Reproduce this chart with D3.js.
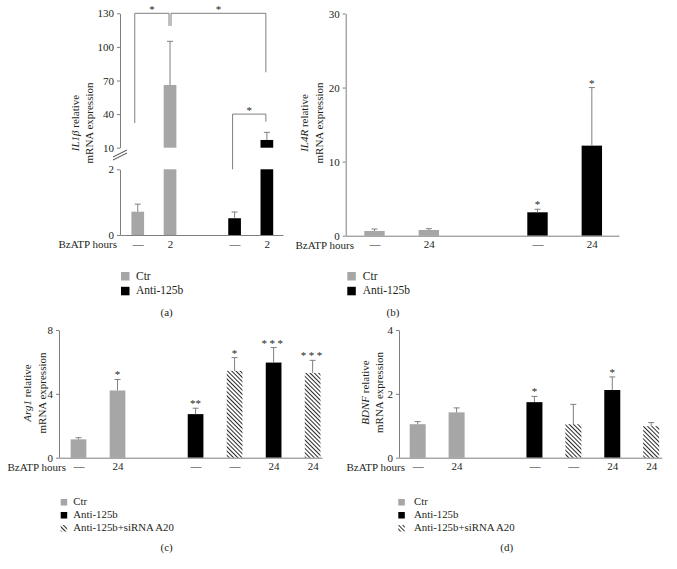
<!DOCTYPE html>
<html><head><meta charset="utf-8">
<script src="https://cdn.jsdelivr.net/npm/d3@7"></script>
<style>
body{margin:0;background:#fff}
svg{display:block}
</style>
</head><body>
<svg id="chart" width="677" height="569"></svg>
<script>
// ---------------- data ----------------
const seriesAB = ["Ctr", "Anti-125b"];
const seriesCD = ["Ctr", "Anti-125b", "Anti-125b+siRNA A20"];

// (a) IL1β
const catsA  = ["—", "2", "—", "2"];
const groupA = ["Ctr", "Ctr", "Anti-125b", "Anti-125b"];
const valA   = [0.71, 66, 0.51, 16.9];
const errA   = [0.23, 39, 0.19, 6.8];
const ticksALow = [0, 2];
const ticksAUp  = [10, 40, 70, 100, 130];
const bracketsA = [
  {from: 0, to: 1, fromVal: 32, toVal: 118.7, top: 130, label: "*"},
  {from: 1, to: 3, fromVal: 118.7, toVal: 77.3, top: 130, label: "*"},
  {from: 2, to: 3, fromVal: 2, toVal: 33.2, top: 40, label: "*"}
];

// (b) IL4R
const catsB  = ["—", "24", "—", "24"];
const groupB = ["Ctr", "Ctr", "Anti-125b", "Anti-125b"];
const valB   = [0.64, 0.77, 3.16, 12.16];
const errB   = [0.26, 0.18, 0.41, 7.84];
const sigB   = ["", "", "*", "*"];
const ticksB = [0, 10, 20, 30];

// (c) Arg1
const catsC  = ["—", "24", "—", "—", "24", "24"];
const groupC = ["Ctr", "Ctr", "Anti-125b", "Anti-125b+siRNA A20", "Anti-125b", "Anti-125b+siRNA A20"];
const valC   = [1.15, 4.21, 2.73, 5.44, 5.96, 5.31];
const errC   = [0.10, 0.69, 0.37, 0.83, 0.94, 0.79];
const sigC   = ["", "*", "**", "*", "***", "***"];
const ticksC = [0, 4, 8];

// (d) BDNF
const catsD  = ["—", "24", "—", "—", "24", "24"];
const groupD = ["Ctr", "Ctr", "Anti-125b", "Anti-125b+siRNA A20", "Anti-125b", "Anti-125b+siRNA A20"];
const valD   = [1.05, 1.42, 1.74, 1.05, 2.12, 0.99];
const errD   = [0.08, 0.14, 0.18, 0.62, 0.41, 0.11];
const sigD   = ["", "", "*", "", "*", ""];
const ticksD = [0, 2, 4];

// ---------------- styling ----------------
const FONT = "'Times New Roman', 'Liberation Serif', Times, Tinos, serif";
const GRAY_AX = "#7f7f7f";
const color = {"Ctr": "#a6a6a6", "Anti-125b": "#000000", "Anti-125b+siRNA A20": "url(#hatch)"};

const svg = d3.select("#chart").style("font-family", FONT);
svg.append("rect").attr("width", 677).attr("height", 569).attr("fill", "#fff");

const defs = svg.append("defs");
const pat = defs.append("pattern").attr("id", "hatch")
  .attr("patternUnits", "userSpaceOnUse").attr("width", 3).attr("height", 3)
  .attr("patternTransform", "rotate(-45)");
pat.append("line").attr("x1", 0.5).attr("y1", 0).attr("x2", 0.5).attr("y2", 3)
  .attr("stroke", "#111").attr("stroke-width", 0.9);

const slotsOf = groups => groups.map((g, i) => i + (g !== "Ctr" ? 1 : 0));
const fmt = d3.format("d");

function txt(sel) { return sel.append("text").style("font-family", FONT).attr("fill", "#231f20"); }

function styleAxis(g) {
  g.attr("font-family", null).attr("font-size", 11);
  g.selectAll(".domain").attr("stroke", GRAY_AX);
  g.selectAll(".tick line").attr("stroke", GRAY_AX);
  g.selectAll("text").attr("fill", "#231f20").style("font-family", FONT);
}

function yTitle(x1, x2, cy, gene) {
  const g = svg.append("g").attr("transform", `translate(0,${cy})`);
  const t1 = txt(g).attr("transform", `translate(${x1},0) rotate(-90)`)
    .attr("text-anchor", "middle").attr("font-size", 11);
  t1.append("tspan").attr("font-style", "italic").text(gene);
  t1.append("tspan").text(" relative");
  txt(g).attr("transform", `translate(${x2},0) rotate(-90)`)
    .attr("text-anchor", "middle").attr("font-size", 11).text("mRNA expression");
}

function xAxis(x, y0, slots, cats, labelX) {
  const g = svg.append("g").attr("transform", `translate(0,${y0})`)
    .call(d3.axisBottom(x).tickValues(slots).tickFormat((d, i) => cats[i])
      .tickSize(0).tickSizeOuter(0).tickPadding(5));
  styleAxis(g);
  txt(svg).attr("x", labelX).attr("y", y0 + 5 + 7.8)
    .attr("text-anchor", "end").attr("font-size", 11).text("BzATP hours");
}

function errorBar(cx, yBase, yTop) {
  svg.append("line").attr("x1", cx).attr("x2", cx).attr("y1", yBase).attr("y2", yTop)
    .attr("stroke", GRAY_AX).attr("stroke-width", 1);
  svg.append("line").attr("x1", cx - 3).attr("x2", cx + 3).attr("y1", yTop).attr("y2", yTop)
    .attr("stroke", GRAY_AX).attr("stroke-width", 1);
}

function star(cx, yBase, s) {
  if (!s) return;
  txt(svg).attr("x", cx).attr("y", yBase).attr("text-anchor", "middle")
    .attr("font-size", 11).attr("letter-spacing", s.length > 2 ? 2.5 : 0).text(s);
}

function legend(x, y, items, box, step, fs, tx, caption, capX, capY) {
  items.forEach((s, i) => {
    const by = y + i * step;
    svg.append("rect").attr("x", x).attr("y", by - box + 1).attr("width", box).attr("height", box)
      .attr("fill", color[s]);
    txt(svg).attr("x", x + tx).attr("y", by).attr("font-size", fs).text(s);
  });
  txt(svg).attr("x", capX).attr("y", capY).attr("text-anchor", "middle")
    .attr("font-size", 11).text(caption);
}

// ---------------- panel (a) ----------------
(function () {
  const x = d3.scaleLinear().domain([-0.55, 4.5]).range([120, 283]);
  const yLow = d3.scaleLinear().domain([0, 2]).range([235, 169.3]);
  const yUp = d3.scaleLinear().domain([10, 130]).range([147.7, 13.3]);
  const yA = v => v <= 2 ? yLow(v) : yUp(v);
  const slots = slotsOf(groupA);
  const bw = 12.7;

  styleAxis(svg.append("g").attr("transform", "translate(120,0)")
    .call(d3.axisLeft(yUp).tickValues(ticksAUp).tickFormat(fmt).tickSize(3).tickSizeOuter(0).tickPadding(3)));
  styleAxis(svg.append("g").attr("transform", "translate(120,0)")
    .call(d3.axisLeft(yLow).tickValues(ticksALow).tickFormat(fmt).tickSize(3).tickSizeOuter(0).tickPadding(3)));
  // axis break marks
  [0, 3].forEach(o => svg.append("line").attr("x1", 113).attr("y1", 157 + o).attr("x2", 127).attr("y2", 150 + o)
    .attr("stroke", "#333").attr("stroke-width", 0.9));

  valA.forEach((v, i) => {
    const cx = x(slots[i]);
    svg.append("rect").attr("x", cx - bw / 2).attr("width", bw)
      .attr("y", yLow(Math.min(v, 2))).attr("height", yLow(0) - yLow(Math.min(v, 2)))
      .attr("fill", color[groupA[i]]);
    if (v > 10) {
      svg.append("rect").attr("x", cx - bw / 2).attr("width", bw)
        .attr("y", yUp(v)).attr("height", yUp(10) - yUp(v)).attr("fill", color[groupA[i]]);
    }
    errorBar(cx, yA(v), yA(v + errA[i]));
  });
  xAxis(x, 235, slots, catsA, 117);

  bracketsA.forEach((b, k) => {
    let x1 = x(slots[b.from]), x2 = x(slots[b.to]);
    if (k === 0) { x1 -= 3; x2 -= 1; }
    if (k === 1) { x1 += 1; x2 -= 1; }
    if (k === 2) { x1 -= 2; x2 -= 1; }
    const yt = yA(b.top);
    svg.append("path").attr("d", `M${x1},${yA(b.fromVal)}V${yt}H${x2}V${yA(b.toVal)}`)
      .attr("fill", "none").attr("stroke", GRAY_AX).attr("stroke-width", 1);
    txt(svg).attr("x", (x1 + x2) / 2).attr("y", yt - 0.5).attr("text-anchor", "middle")
      .attr("font-size", 11).text(b.label);
  });

  yTitle(79, 93, 123, "IL1β");
  legend(121, 279.5, seriesAB, 8.5, 14.8, 11.5, 15, "(a)", 166.7, 315.5);
})();

// ---------------- generic panels ----------------
function panel(cfg, cats, groups, vals, errs, sigs, ticks) {
  const x = d3.scaleLinear().domain(cfg.xd).range(cfg.xr);
  const y = d3.scaleLinear().domain([0, ticks[ticks.length - 1]]).range([cfg.y0, cfg.y1]);
  const slots = slotsOf(groups);
  styleAxis(svg.append("g").attr("transform", `translate(${cfg.xr[0]},0)`)
    .call(d3.axisLeft(y).tickValues(ticks).tickFormat(fmt).tickSize(3).tickSizeOuter(0).tickPadding(3)));
  vals.forEach((v, i) => {
    const cx = x(slots[i]);
    svg.append("rect").attr("x", cx - cfg.bw / 2).attr("width", cfg.bw)
      .attr("y", y(v)).attr("height", y(0) - y(v)).attr("fill", color[groups[i]]);
    errorBar(cx, y(v), y(v + errs[i]));
    star(cx, y(v + errs[i]) - 1, sigs[i]);
  });
  xAxis(x, cfg.y0, slots, cats, cfg.labelX);
  yTitle(cfg.t1, cfg.t2, cfg.ty, cfg.gene);
}

panel({xd: [-0.53, 4.5], xr: [345.7, 619], y0: 235.7, y1: 13.5, bw: 20.4, labelX: 354,
       t1: 308, t2: 323, ty: 123, gene: "IL4R"}, catsB, groupB, valB, errB, sigB, ticksB);
legend(347.3, 279.5, seriesAB, 8.5, 14.8, 11.5, 15.5, "(b)", 393, 315.5);

panel({xd: [-0.5, 6.24], xr: [59, 322], y0: 457.7, y1: 330, bw: 15.7, labelX: 66,
       t1: 30.6, t2: 45.6, ty: 393, gene: "Arg1"}, catsC, groupC, valC, errC, sigC, ticksC);
legend(60.7, 504.5, seriesCD, 6.5, 13, 10.8, 12.6, "(c)", 166.7, 550.5);

panel({xd: [-0.48, 6.27], xr: [399, 661.7], y0: 457.7, y1: 330, bw: 16, labelX: 405,
       t1: 369, t2: 383, ty: 392.5, gene: "BDNF"}, catsD, groupD, valD, errD, sigD, ticksD);
legend(398.3, 504.5, seriesCD, 6.5, 13, 10.8, 15.7, "(d)", 506.7, 550.5);
</script>
</body></html>
